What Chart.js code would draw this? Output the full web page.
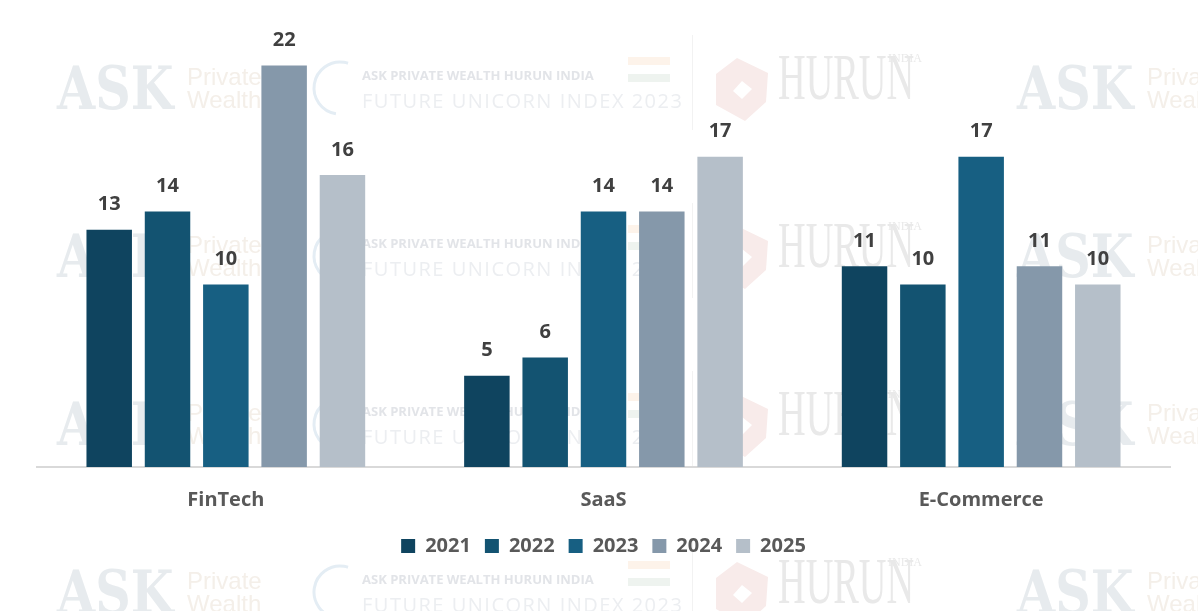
<!DOCTYPE html>
<html>
<head>
<meta charset="utf-8">
<script src="https://cdn.jsdelivr.net/npm/chart.js@4.4.0/dist/chart.umd.min.js"></script>
<style>
    html, body { margin: 0; padding: 0; background: #ffffff; }
    #wrap { width: 1198px; height: 611px; position: relative; }
</style>
</head>
<body>
<div id="wrap"><canvas id="sectorChart"></canvas></div>
<script>
// Sector counts by year
const categories = ['FinTech', 'SaaS', 'E-Commerce'];
const years = ['2021', '2022', '2023', '2024', '2025'];
const values2021 = [13, 5, 11];
const values2022 = [14, 6, 10];
const values2023 = [10, 14, 17];
const values2024 = [22, 14, 11];
const values2025 = [16, 17, 10];
const yearColors = ['#0f445f', '#135371', '#175f82', '#8598aa', '#b5bfc9'];

const FONT = "'Open Sans', 'Noto Sans', sans-serif";

// Faint background watermark, tiled in rows
const watermark = {
    id: 'watermark',
    beforeDraw(chart) {
        const ctx = chart.ctx;
        ctx.save();
        ctx.textBaseline = 'alphabetic';
        [0, 168, 336, 504].forEach(dy => {
            const y = 88 + dy;
            [57, 1017].forEach(x => {
                ctx.save();
                ctx.translate(x, y + 21);
                ctx.scale(0.82, 1);
                ctx.font = "bold 60px 'DejaVu Serif', serif";
                ctx.fillStyle = '#e7ebee';
                ctx.fillText('ASK', 0, 0);
                ctx.restore();
                ctx.font = "24px 'Liberation Sans', sans-serif";
                ctx.fillStyle = '#f4efe9';
                ctx.fillText('Private', x + 130, y - 3);
                ctx.fillText('Wealth', x + 130, y + 20);
            });
            // unicorn index block
            ctx.strokeStyle = '#e4edf4';
            ctx.lineWidth = 3;
            ctx.beginPath();
            ctx.arc(340, y, 26, Math.PI * 0.55, Math.PI * 1.6);
            ctx.stroke();
            ctx.font = "bold 13px 'Open Sans', sans-serif";
            ctx.fillStyle = '#e2e4e8';
            ctx.fillText('ASK PRIVATE WEALTH HURUN INDIA', 362, y - 8);
            ctx.font = "20px 'Open Sans', sans-serif";
            ctx.fillStyle = '#eceef1';
            if ('letterSpacing' in ctx) ctx.letterSpacing = '1.5px';
            ctx.fillText('FUTURE UNICORN INDEX 2023', 362, y + 20);
            if ('letterSpacing' in ctx) ctx.letterSpacing = '0px';
            ctx.fillStyle = '#fdf3ea';
            ctx.fillRect(628, y - 31, 42, 8);
            ctx.fillStyle = '#eef3ef';
            ctx.fillRect(628, y - 14, 42, 8);
            ctx.fillStyle = '#f2f2f2';
            ctx.fillRect(692, y - 53, 1, 95);
            // hurun block
            ctx.fillStyle = '#f8ebea';
            ctx.beginPath();
            ctx.moveTo(737, y - 30);
            ctx.lineTo(768, y - 15);
            ctx.lineTo(766, y + 14);
            ctx.lineTo(745, y + 33);
            ctx.lineTo(716, y + 17);
            ctx.lineTo(716, y - 14);
            ctx.closePath();
            ctx.fill();
            ctx.fillStyle = '#ffffff';
            ctx.beginPath();
            ctx.moveTo(742, y - 7);
            ctx.lineTo(752, y + 1);
            ctx.lineTo(742, y + 11);
            ctx.lineTo(733, y + 3);
            ctx.closePath();
            ctx.fill();
            ctx.fillStyle = '#e9e9e9';
            ctx.save();
            ctx.translate(778, y + 11);
            ctx.scale(0.58, 1);
            ctx.font = "66px 'Liberation Serif', serif";
            ctx.fillText('HURUN', 0, 0);
            ctx.restore();
            ctx.font = "12px 'Liberation Serif', serif";
            ctx.fillText('INDIA', 888, y - 26);
        });
        ctx.restore();
    }
};

// Value labels above each bar
const barValueLabels = {
    id: 'barValueLabels',
    afterDatasetsDraw(chart) {
        const ctx = chart.ctx;
        ctx.save();
        ctx.font = 'bold 20px ' + FONT;
        ctx.fillStyle = '#404040';
        ctx.textAlign = 'center';
        ctx.textBaseline = 'middle';
        chart.data.datasets.forEach((ds, i) => {
            const meta = chart.getDatasetMeta(i);
            meta.data.forEach((bar, j) => {
                ctx.fillText(ds.data[j], bar.x, bar.y - 25);
            });
        });
        ctx.restore();
    }
};

function initSectorChart() {
    const ctx = document.getElementById('sectorChart').getContext('2d');
    const series = [values2021, values2022, values2023, values2024, values2025];

    new Chart(ctx, {
        type: 'bar',
        data: {
            labels: categories,
            datasets: years.map((y, i) => ({
                label: y,
                data: series[i],
                backgroundColor: yearColors[i],
                borderWidth: 0,
                categoryPercentage: 0.772,
                barPercentage: 0.78
            }))
        },
        options: {
            responsive: true,
            maintainAspectRatio: false,
            animation: false,
            layout: {
                padding: { left: 37, right: 28, top: 29, bottom: 45 }
            },
            scales: {
                x: {
                    grid: { display: false },
                    border: { display: true, color: '#d9d9d9', width: 2 },
                    ticks: {
                        color: '#595959',
                        padding: 13,
                        font: { family: FONT, size: 20, weight: 'bold' }
                    },
                    afterFit(scale) {
                        scale.height -= 3;
                    }
                },
                y: {
                    display: false,
                    min: 0,
                    max: 24
                }
            },
            plugins: {
                legend: {
                    position: 'bottom',
                    labels: {
                        boxWidth: 14,
                        boxHeight: 14,
                        padding: 14,
                        color: '#595959',
                        font: { family: FONT, size: 20, weight: 'bold' }
                    }
                },
                tooltip: { enabled: false }
            }
        },
        plugins: [watermark, barValueLabels]
    });
}

document.addEventListener('DOMContentLoaded', function() {
    if (document.getElementById('sectorChart')) {
        initSectorChart();
    }
});
</script>
</body>
</html>
